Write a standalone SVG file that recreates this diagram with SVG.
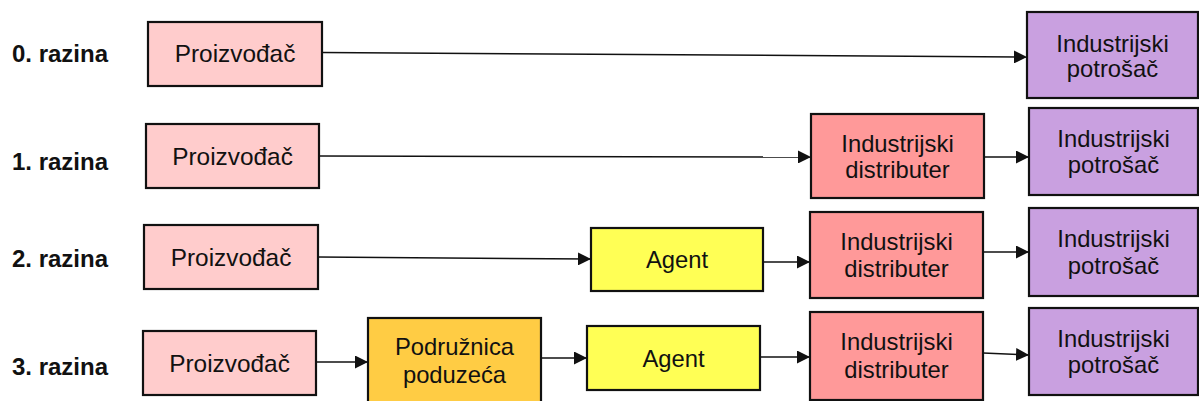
<svg xmlns="http://www.w3.org/2000/svg" width="1199" height="401" viewBox="0 0 1199 401">
<style>
.lbl{font-family:"Liberation Sans",Arial,sans-serif;font-weight:bold;font-size:24px;fill:#111}
.t{font-family:"Liberation Sans",Arial,sans-serif;font-size:23.8px;fill:#111;text-anchor:middle}
.tp{font-family:"Liberation Sans",Arial,sans-serif;font-size:24.4px;fill:#111;text-anchor:middle}
.box{stroke:#111;stroke-width:2.2}
.prz{fill:#FFCCCC}
.pot{fill:#C9A0E0}
.dis{fill:#FF9999}
.agt{fill:#FFFF55}
.pod{fill:#FFCC44}
.c{stroke:#111;stroke-width:1.5;fill:none;marker-end:url(#ah)}
</style>
<defs>
<marker id="ah" markerUnits="userSpaceOnUse" markerWidth="14" markerHeight="13" refX="13" refY="6.5" orient="auto">
<path d="M0,0 L13,6.5 L0,13 z" fill="#111"/>
</marker>
</defs>
<rect width="1199" height="401" fill="#fff"/>
<g id="labels">
<text class="lbl" x="12" y="62">0. razina</text>
<text class="lbl" x="12" y="170">1. razina</text>
<text class="lbl" x="12" y="267">2. razina</text>
<text class="lbl" x="12" y="375">3. razina</text>
</g>
<g id="connectors">
<line class="c" x1="322" y1="52.5" x2="1027" y2="57"/>
<line class="c" x1="319" y1="156" x2="811" y2="157"/>
<line class="c" x1="984" y1="157" x2="1029" y2="157"/>
<line class="c" x1="318" y1="257" x2="591" y2="259"/>
<line class="c" x1="763" y1="262" x2="810" y2="262"/>
<line class="c" x1="983" y1="252" x2="1029" y2="252"/>
<line class="c" x1="316" y1="362" x2="368" y2="362"/>
<line class="c" x1="541" y1="358" x2="587" y2="358"/>
<line class="c" x1="760" y1="357" x2="810" y2="357"/>
<line class="c" x1="983" y1="353" x2="1029" y2="355"/>
</g>
<g id="n0-proizvodac"><rect class="box prz" x="148" y="22" width="174" height="64"/><text class="tp" x="235" y="62">Proizvođač</text></g>
<g id="n0-potrosac"><rect class="box pot" x="1027" y="12" width="171" height="86"/><text class="t" x="1112.5" y="52">Industrijski</text><text class="t" x="1112.5" y="77">potrošač</text></g>
<g id="n1-proizvodac"><rect class="box prz" x="146" y="124" width="173" height="64"/><text class="tp" x="232.5" y="165">Proizvođač</text></g>
<g id="n1-distributer"><rect class="box dis" x="811" y="114" width="173" height="84"/><text class="t" x="897.5" y="152">Industrijski</text><text class="t" x="897.5" y="178">distributer</text></g>
<g id="n1-potrosac"><rect class="box pot" x="1029" y="108" width="169" height="87"/><text class="t" x="1113.5" y="147">Industrijski</text><text class="t" x="1113.5" y="173">potrošač</text></g>
<g id="n2-proizvodac"><rect class="box prz" x="144" y="225" width="174" height="64"/><text class="tp" x="231" y="266">Proizvođač</text></g>
<g id="n2-agent"><rect class="box agt" x="591" y="228" width="172" height="63"/><text class="t" x="677" y="268">Agent</text></g>
<g id="n2-distributer"><rect class="box dis" x="810" y="212" width="173" height="86"/><text class="t" x="896.5" y="250">Industrijski</text><text class="t" x="896.5" y="277">distributer</text></g>
<g id="n2-potrosac"><rect class="box pot" x="1029" y="208" width="169" height="88"/><text class="t" x="1113.5" y="247">Industrijski</text><text class="t" x="1113.5" y="274">potrošač</text></g>
<g id="n3-proizvodac"><rect class="box prz" x="143" y="331" width="173" height="64"/><text class="tp" x="229.5" y="372">Proizvođač</text></g>
<g id="n3-podruznica"><rect class="box pod" x="368" y="318" width="173" height="90"/><text class="t" x="454.5" y="355">Podružnica</text><text class="t" x="454.5" y="383">poduzeća</text></g>
<g id="n3-agent"><rect class="box agt" x="587" y="326" width="173" height="64"/><text class="t" x="673.5" y="367">Agent</text></g>
<g id="n3-distributer"><rect class="box dis" x="810" y="312" width="173" height="88"/><text class="t" x="896.5" y="350">Industrijski</text><text class="t" x="896.5" y="378">distributer</text></g>
<g id="n3-potrosac"><rect class="box pot" x="1029" y="308" width="169" height="87"/><text class="t" x="1113.5" y="347">Industrijski</text><text class="t" x="1113.5" y="373">potrošač</text></g>
</svg>
